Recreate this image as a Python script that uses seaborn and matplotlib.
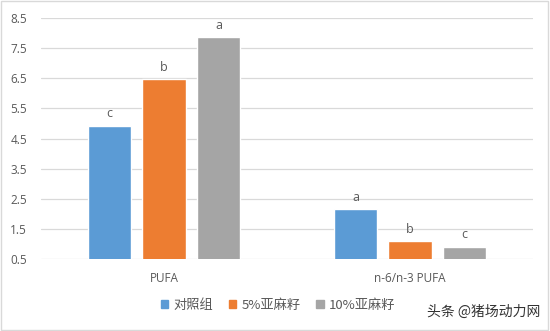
import matplotlib
matplotlib.use("Agg")
import matplotlib.pyplot as plt
import seaborn as sns
import pandas as pd
from matplotlib.patches import Rectangle

# Data
categories = ["PUFA", "n-6/n-3 PUFA"]
groups = ["对照组", "5%亚麻籽", "10%亚麻籽"]
control = [4.92, 2.15]
flax5 = [6.47, 1.09]
flax10 = [7.86, 0.91]
letters_control = ["c", "a"]
letters_flax5 = ["b", "b"]
letters_flax10 = ["a", "c"]
yticks = [0.5, 1.5, 2.5, 3.5, 4.5, 5.5, 6.5, 7.5, 8.5]

colors = ["#5B9BD5", "#ED7D31", "#A5A5A5"]
text_color = "#595959"

rows = []
for g, vals, labs in zip(groups, [control, flax5, flax10],
                         [letters_control, letters_flax5, letters_flax10]):
    for c, v, l in zip(categories, vals, labs):
        rows.append({"category": c, "group": g, "value": v, "letter": l})
df = pd.DataFrame(rows)

sns.set_theme(style="white")
plt.rcParams["font.family"] = ["Open Sans", "Noto Sans CJK SC", "DejaVu Sans"]

fig = plt.figure(figsize=(5.5, 3.31), dpi=100)
ax = fig.add_axes([41 / 550, 1 - 259 / 331, (533 - 41) / 550, (259 - 18) / 331])

sns.barplot(data=df, x="category", y="value", hue="group", order=categories,
            hue_order=groups, palette=colors, width=0.665, gap=0.2,
            saturation=1, ax=ax, legend=False)

ax.set_ylim(0.5, 8.5)
ax.set_xlim(-0.5, 1.5)
ax.set_yticks(yticks)
ax.set_yticklabels([f"{t:.1f}" for t in yticks])
ax.yaxis.grid(True, color="#D9D9D9", linewidth=0.9)
ax.set_axisbelow(True)
for s in ax.spines.values():
    s.set_visible(False)
ax.set_xlabel("")
ax.set_ylabel("")
ax.tick_params(axis="both", length=0, colors=text_color, labelsize=8.5)
ax.tick_params(axis="y", pad=10)
ax.tick_params(axis="x", pad=9)

# Significance letters above each bar
for container, g in zip(ax.containers, groups):
    sub = df[df["group"] == g].set_index("category").loc[categories]
    for bar, letter in zip(container, sub["letter"]):
        ax.annotate(letter, (bar.get_x() + bar.get_width() / 2, bar.get_height()),
                    xytext=(0, 4), textcoords="offset points",
                    ha="center", va="bottom", fontsize=9, color=text_color)

# Legend
handles = [Rectangle((0, 0), 1, 1, color=c) for c in colors]
fig.legend(handles, groups, loc="center", bbox_to_anchor=(278 / 550, 1 - 305 / 331),
           ncol=3, frameon=False, handlelength=0.55, handleheight=0.55,
           handletextpad=0.4, columnspacing=1.2, labelcolor=text_color,
           prop={"family": ["Noto Sans CJK SC", "DejaVu Sans"], "size": 9.5})

# Figure border
fig.patches.append(Rectangle((0.002, 0.004), 0.994, 0.992, transform=fig.transFigure,
                             fill=False, edgecolor="#D9D9D9", linewidth=1))

# Watermark
fig.text(540 / 550, 1 - 312 / 331, "头条 @猪场动力网", ha="right", va="center",
         fontsize=10, color="#333333",
         family=["Noto Sans CJK SC", "DejaVu Sans"])

fig.savefig("out.png", dpi=100)
